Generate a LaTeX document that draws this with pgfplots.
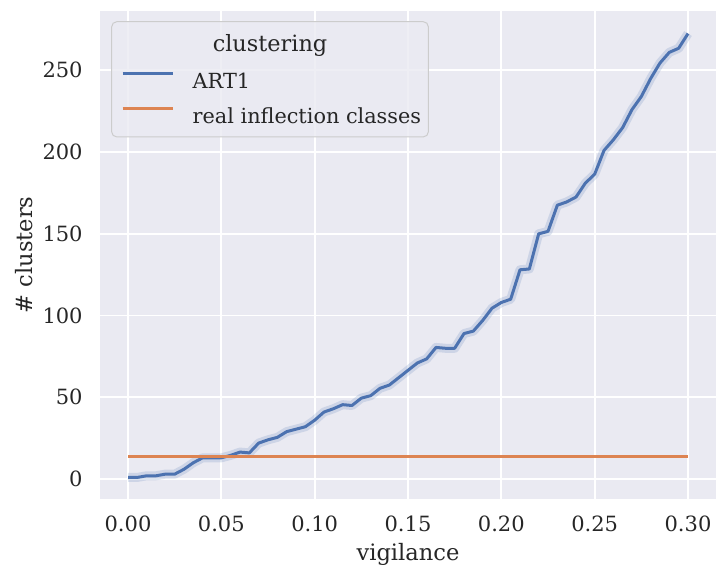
\documentclass[border=0pt]{standalone}
\usepackage{pgfplots}
\pgfplotsset{compat=1.18}
\usepackage{fontspec}
\setmainfont{DejaVu Serif}
\definecolor{sbbg}{HTML}{EAEAF2}
\definecolor{sbblue}{HTML}{4C72B0}
\definecolor{sborange}{HTML}{DD8452}
\definecolor{sbtext}{HTML}{262626}
\definecolor{sbedge}{HTML}{CCCCCC}

% vigilance vs. number of ART1 clusters
\pgfplotstableread{
vig   n
0.000 1
0.005 1
0.010 2
0.015 2
0.020 3
0.025 3
0.030 6
0.035 10
0.040 13
0.045 13
0.050 13
0.055 14.5
0.060 16.5
0.065 16
0.070 22
0.075 24
0.080 25.5
0.085 29
0.090 30.5
0.095 32
0.100 36
0.105 41
0.110 43
0.115 45.5
0.120 45
0.125 49.5
0.130 51
0.135 55.5
0.140 57.5
0.145 62
0.150 66.5
0.155 71
0.160 73.5
0.165 80.5
0.170 80
0.175 80
0.180 89
0.185 90.5
0.190 97
0.195 104.5
0.200 108
0.205 110
0.210 128
0.215 128.5
0.220 150
0.225 151.5
0.230 167.5
0.235 169.5
0.240 172.5
0.245 181
0.250 186.5
0.255 201
0.260 207.5
0.265 215
0.270 226
0.275 234
0.280 245
0.285 254.5
0.290 261
0.295 263.5
0.300 272.5
}\art

\begin{document}
\begin{tikzpicture}
\begin{axis}[
    name=ax,
    scale only axis,
    width=308pt, height=244pt,
    xmin=-0.015, xmax=0.315,
    ymin=-12.2, ymax=286.3,
    xtick={0,0.05,...,0.30},
    ytick={0,50,...,250},
    axis background/.style={fill=sbbg},
    axis line style={draw=none},
    major tick length=0pt,
    grid=major,
    major grid style={white, line width=0.9pt},
    /pgf/number format/assume math mode=true,
    ticklabel style={font=\fontsize{10.5}{12}\selectfont, text=sbtext},
    xticklabel style={inner sep=0pt, yshift=-8.5pt,
        /pgf/number format/fixed, /pgf/number format/fixed zerofill,
        /pgf/number format/precision=2},
    yticklabel style={inner sep=0pt, xshift=-8.5pt},
    scaled x ticks=false,
    xlabel={vigilance},
    ylabel={\# clusters},
    label style={font=\fontsize{11.3}{13}\selectfont, text=sbtext},
    xlabel style={at={(axis description cs:0.5,-0.125)}, anchor=base, inner sep=0pt},
    ylabel style={at={(axis description cs:-0.109,0.5)}, anchor=base, inner sep=0pt},
    legend image code/.code={\draw[#1] (0pt,4.5pt) -- (25pt,4.5pt);},
    legend style={draw=none, fill=none, inner sep=0pt,
        at={(axis description cs:0.0336,0.8764)}, anchor=north west,
        font=\fontsize{10.4}{12}\selectfont, text=sbtext,
        row sep=7.2pt, column sep=9.3pt,
        nodes={inner sep=0pt, text height=8pt, text depth=2pt},
        cells={anchor=base west}},
    legend cell align=left,
    clip=false,
]
\addplot[sbblue, line width=4.5pt, opacity=0.18, line join=round, forget plot] table[x=vig, y=n] {\art};
\addplot[sbblue, line width=1.5pt, line join=round] table[x=vig, y=n] {\art};
\addplot[sborange, line width=1.5pt] coordinates {(0,14) (0.30,14)};
\legend{ART1, real inflection classes}

\draw[rounded corners=2.5pt, draw=sbedge, line width=0.5pt, fill=sbbg, fill opacity=0.8]
    (axis description cs:0.019,0.742) rectangle (axis description cs:0.533,0.978);
\node[anchor=base, inner sep=0pt, font=\fontsize{11.2}{13}\selectfont, text=sbtext]
    at (axis description cs:0.276,0.9166) {clustering};
\end{axis}
\path ([shift={(-50pt,-35.5pt)}]ax.south west) rectangle ([shift={(1pt,5.5pt)}]ax.north east);
\end{tikzpicture}
\end{document}
